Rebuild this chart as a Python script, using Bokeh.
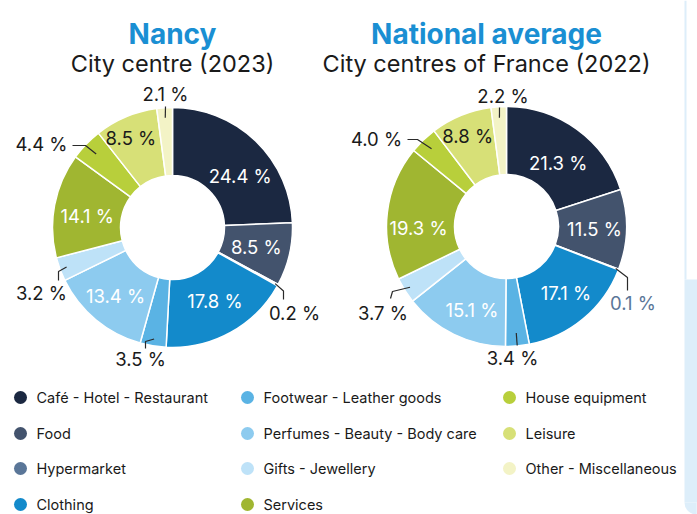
import math
from bokeh.plotting import figure
from bokeh.models import Range1d, ColumnDataSource
from bokeh.embed import file_html
from bokeh.resources import INLINE
from bokeh.core.properties import value

# ---------------- data ----------------
categories = ["Café - Hotel - Restaurant", "Food", "Hypermarket", "Clothing",
              "Footwear - Leather goods", "Perfumes - Beauty - Body care",
              "Gifts - Jewellery", "Services", "House equipment", "Leisure",
              "Other - Miscellaneous"]
nancy_values = [24.4, 8.5, 0.2, 17.8, 3.5, 13.4, 3.2, 14.1, 4.4, 8.5, 2.1]
national_values = [21.3, 11.5, 0.1, 17.1, 3.4, 15.1, 3.7, 19.3, 4.0, 8.8, 2.2]

titles = ["Nancy", "National average"]
subtitles = ["City centre (2023)", "City centres of France (2022)"]

# ---------------- style ----------------
colors = ["#1b2841", "#43536d", "#5a7698", "#138acb", "#5ab3e4", "#8dcbef",
          "#bee2f8", "#a0b631", "#b8cf3b", "#d7e077", "#f3f3c6"]
TITLE_BLUE = "#1a8fd3"
INK = "#1a1a1a"
PANEL = "#ddeefa"
FONT = "Inter"

W, H = 697, 514
p = figure(width=W, height=H, output_backend="svg", toolbar_location=None,
           x_range=Range1d(0, W), y_range=Range1d(-H, 0),
           min_border=0, x_axis_location=None, y_axis_location=None)
p.grid.visible = False
p.outline_line_color = None
p.background_fill_color = "white"
p.border_fill_color = "white"


def Y(y):
    return -y


# neighbouring page panels at the right edge
p.quad(left=[684], right=[686], top=[Y(0)], bottom=[Y(279)], fill_color=PANEL, line_color=None)
p.quad(left=[684], right=[698], top=[Y(279)], bottom=[Y(502)], fill_color=PANEL, line_color=None)
p.quad(left=[696], right=[698], top=[Y(502)], bottom=[Y(515)], fill_color=PANEL, line_color=None)
p.wedge(x=[696], y=[Y(502)], radius=12, start_angle=math.pi, end_angle=1.5 * math.pi,
        fill_color=PANEL, line_color=None)

R_OUT, R_IN = 120, 52

pies = [
    dict(values=nancy_values, cx=172, cy=227, tx=172,
         inside={0: (9, 85), 1: (0, 86), 3: (-1, 85), 5: (0, 89), 7: (-3, 86), 9: (-2, 99)},
         outside={
             2: dict(text=(122, 85), pts=[(111, 63.5), (111, 72)], r0=117, color=INK),
             4: dict(text=(-32, 131), pts=[(-27, 114), (-27, 121)], r0=113, color=INK),
             6: dict(text=(-131, 65), pts=[(-114, 44), (-114, 53)], r0=113, color=INK),
             8: dict(text=(-131, -84), pts=[(-87, -82), (-100, -82)], r0=106, color=INK),
             10: dict(text=(-7, -134), pts=[(-7, -121)], r0=110, color=INK),
         }),
    dict(values=national_values, cx=506, cy=226, tx=486,
         inside={0: (3, 82), 1: (0, 88), 3: (-2, 89), 5: (-3.5, 90), 7: (-7.5, 88), 9: (-1, 98)},
         outside={
             2: dict(text=(126.5, 76), pts=[(121, 51), (121, 64)], r0=117, color="#5a7698"),
             4: dict(text=(6, 131.5), pts=[(10.7, 119)], r0=107, color=INK),
             6: dict(text=(-123.5, 86.5), pts=[(-114, 65), (-116, 72)], r0=114, color=INK),
             8: dict(text=(-130, -88), pts=[(-89, -87), (-99, -87)], r0=108, color=INK),
             10: dict(text=(-3.5, -131), pts=[(-7, -119)], r0=109, color=INK),
         }),
]

for k, pie in enumerate(pies):
    vals = pie["values"]
    total = sum(vals)
    cx, cy = pie["cx"], pie["cy"]
    starts, ends, mids = [], [], []
    acc = 0.0
    for v in vals:
        a1 = acc / total * 360.0
        acc += v
        a2 = acc / total * 360.0
        starts.append(math.radians(90 - a2))
        ends.append(math.radians(90 - a1))
        mids.append((a1 + a2) / 2)
    src = ColumnDataSource(dict(start=starts, end=ends, color=colors,
                                x=[cx] * len(vals), y=[Y(cy)] * len(vals)))
    p.annular_wedge(x="x", y="y", inner_radius=R_IN, outer_radius=R_OUT,
                    start_angle="start", end_angle="end", direction="anticlock",
                    fill_color="color", line_color="white", line_width=1.5, source=src)

    # inside labels
    lx, ly, lt, lc = [], [], [], []
    for i, (da, r) in pie["inside"].items():
        a = math.radians(mids[i] + da)
        lx.append(cx + r * math.sin(a))
        ly.append(Y(cy - r * math.cos(a)))
        lt.append(f"{vals[i]:.1f} %")
        lc.append(INK if i == 9 else "white")
    p.text(x=lx, y=ly, text=lt, text_color=lc, text_font=value(FONT),
           text_font_size=value("18.5px"), text_align="center", text_baseline="middle")

    # outside labels with leader lines
    ox, oy, ot, oc = [], [], [], []
    for i, spec in pie["outside"].items():
        a = math.radians(mids[i])
        r0 = spec["r0"]
        xs = [cx + r0 * math.sin(a)] + [cx + dx for dx, dy in spec["pts"]]
        ys = [Y(cy - r0 * math.cos(a))] + [Y(cy + dy) for dx, dy in spec["pts"]]
        p.line(xs, ys, line_color="#2a2a2a", line_width=1.2)
        tdx, tdy = spec["text"]
        ox.append(cx + tdx)
        oy.append(Y(cy + tdy))
        ot.append(f"{vals[i]:.1f} %")
        oc.append(spec["color"])
    p.text(x=ox, y=oy, text=ot, text_color=oc, text_font=value(FONT),
           text_font_size=value("18.5px"), text_align="center", text_baseline="middle")

    # titles
    p.text(x=[pie["tx"]], y=[Y(33)], text=[titles[k]], text_color=TITLE_BLUE,
           text_font=value(FONT), text_font_size=value("28px"), text_font_style="bold",
           text_align="center", text_baseline="alphabetic")
    p.text(x=[pie["tx"]], y=[Y(63)], text=[subtitles[k]], text_color=INK,
           text_font=value(FONT), text_font_size=value("23.5px"),
           text_align="center", text_baseline="alphabetic")

# ---------------- legend ----------------
col_x = [20, 247, 509]
row_y = [397, 433, 468, 504]
mx, my, tx, ty = [], [], [], []
for i, name in enumerate(categories):
    c, r = divmod(i, 4)
    mx.append(col_x[c])
    my.append(Y(row_y[r]))
    tx.append(col_x[c] + 16)
    ty.append(Y(row_y[r]))
p.scatter(x=mx, y=my, size=13, marker="circle", fill_color=colors, line_color=None)
p.text(x=tx, y=ty, text=categories, text_color=INK, text_font=value(FONT),
       text_font_size=value("14.5px"), text_align="left", text_baseline="middle")

open("out.html", "w").write(file_html(p, INLINE))
